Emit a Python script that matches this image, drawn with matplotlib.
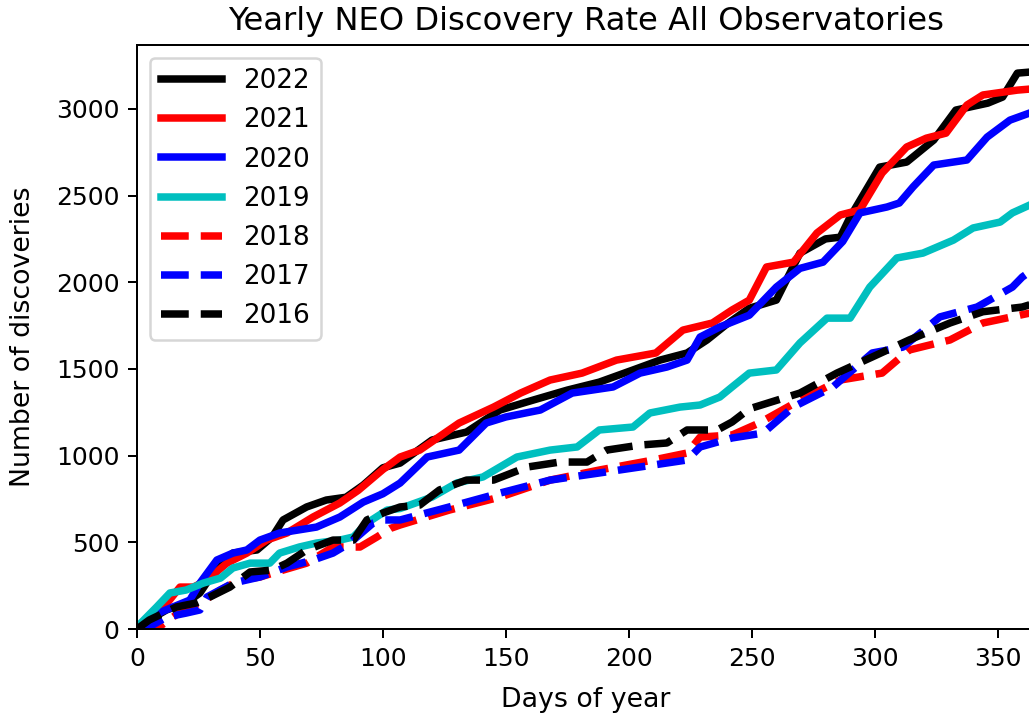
import matplotlib
matplotlib.use("Agg")
import matplotlib.pyplot as plt

# cumulative NEO discoveries per day of year
days_2022 = [0, 5, 12, 20, 25.6, 31, 39, 48.8, 55, 59.4, 69, 77, 85, 92, 100, 107, 120, 134, 147.6, 161, 175,
             188, 201.7, 212.7, 223.7, 231.8, 240, 249, 260, 269.6, 280, 286, 290, 302, 313, 324, 333, 346,
             352, 358, 363]
count_2022 = [0, 52, 110, 150, 208, 323, 438, 456, 531, 629, 704, 744, 760, 830, 930, 957, 1090, 1136, 1263,
              1320, 1378, 1424, 1494, 1551, 1592, 1667, 1760, 1850, 1897, 2168, 2250, 2260, 2376, 2664, 2693,
              2820, 2993, 3033, 3068, 3206, 3212]

days_2021 = [0, 9, 17.5, 23, 28.5, 36.6, 44.7, 52.8, 61, 71.6, 82.5, 90, 100, 107, 115, 131, 145, 156, 168,
             181, 195, 211, 222, 234, 242, 249, 256, 267, 276.5, 286, 294, 303, 313, 321, 329, 337.5, 344,
             358, 363]
count_2021 = [0, 92, 242, 242, 283, 380, 438, 513, 554, 646, 727, 800, 920, 992, 1032, 1188, 1280, 1361,
              1436, 1476, 1551, 1592, 1724, 1765, 1840, 1897, 2088, 2116, 2284, 2388, 2417, 2630, 2780, 2831,
              2860, 3022, 3080, 3108, 3114]

days_2020 = [0, 5, 14.6, 21.5, 25.6, 32.5, 39, 44.7, 50, 58, 73, 82.5, 92, 100, 107, 118, 131, 142, 150,
             164, 177, 193.6, 204.6, 215.5, 223.7, 229, 237, 249, 260, 269.6, 279, 287, 294, 305, 310, 315.6,
             324, 337.5, 345.7, 355, 363]
count_2020 = [0, 69, 127, 167, 265, 398, 438, 456, 513, 554, 588, 646, 732, 780, 842, 992, 1032, 1188, 1223,
              1263, 1361, 1396, 1476, 1511, 1551, 1684, 1742, 1810, 1972, 2080, 2116, 2235, 2400, 2434, 2457,
              2550, 2676, 2705, 2837, 2935, 2976]

days_2019 = [0, 8, 13.4, 20, 27, 34, 39, 46, 54, 58, 66, 73, 82.5, 88, 93.5, 101.7, 107, 120, 130, 140.7,
             154.5, 168, 179, 188, 201.7, 208.6, 220.8, 229, 237, 242, 249, 260, 269.6, 280.6, 290, 298, 309,
             319.6, 332, 340, 351, 356, 363]
count_2019 = [12, 127, 208, 225, 265, 294, 352, 380, 380, 438, 473, 496, 513, 531, 611, 686, 695, 761, 842,
              877, 992, 1032, 1050, 1148, 1165, 1246, 1280, 1292, 1338, 1396, 1476, 1494, 1650, 1793, 1793,
              1972, 2140, 2168, 2243, 2313, 2347, 2400, 2445]

days_2018 = [0, 9, 18.7, 25.6, 34, 42, 50, 59.4, 69, 79.7, 90.7, 97.6, 103, 107, 127, 147.6, 168, 188, 210,
             223.7, 229, 242, 253, 269.6, 286, 303, 314, 330.6, 344, 363]
count_2018 = [0, 12, 110, 150, 225, 283, 300, 340, 380, 473, 473, 531, 580, 600, 686, 761, 859, 917, 975,
              1015, 1107, 1119, 1188, 1320, 1436, 1476, 1609, 1667, 1765, 1822]

days_2017 = [0, 5, 12, 20, 25.6, 28.5, 39, 50, 61, 71.6, 79.7, 86.6, 96, 100, 107, 127, 147.6, 168, 188,
             210, 223.7, 229, 242, 254.6, 266.8, 283, 299, 311.5, 326.5, 341.6, 356, 360, 363]
count_2017 = [0, 12, 69, 92, 110, 185, 265, 300, 358, 398, 438, 496, 611, 629, 629, 704, 784, 859, 900, 946,
              975, 1050, 1102, 1130, 1280, 1396, 1592, 1626, 1800, 1857, 1972, 2030, 2060]

days_2016 = [0, 5, 16, 24, 29.7, 37.8, 46, 55, 61, 69, 79.7, 88, 93.5, 100, 107, 115, 123, 134, 145, 158.6,
             172, 183, 191, 204.6, 215.5, 223.7, 236, 242, 249, 269.6, 284.6, 299, 314, 330.6, 344, 360, 363]
count_2016 = [0, 52, 127, 150, 185, 242, 329, 340, 380, 456, 513, 513, 629, 669, 704, 715, 802, 859, 859,
              934, 963, 963, 1032, 1061, 1073, 1148, 1148, 1194, 1270, 1361, 1476, 1569, 1667, 1765, 1830,
              1857, 1870]

years = ["2022", "2021", "2020", "2019", "2018", "2017", "2016"]
all_days = [days_2022, days_2021, days_2020, days_2019, days_2018, days_2017, days_2016]
all_counts = [count_2022, count_2021, count_2020, count_2019, count_2018, count_2017, count_2016]
colors = ["black", "red", "blue", "#00BFBF", "red", "blue", "black"]
linestyles = ["-", "-", "-", "-", "--", "--", "--"]

fig = plt.figure(figsize=(1029 / 180, 714 / 180), dpi=180)
ax = fig.add_axes([0.1331, 0.119, 0.8723, 0.8184])

for d, c, col, ls, yr in zip(all_days, all_counts, colors, linestyles, years):
    ax.plot(d, c, color=col, linestyle=ls, linewidth=3, label=yr)

ax.set_xlim(0, 365)
ax.set_ylim(0, 3370)
ax.set_title("Yearly NEO Discovery Rate All Observatories", fontsize=12.9)
ax.set_xlabel("Days of year", fontsize=10.7, labelpad=6.5)
ax.set_ylabel("Number of discoveries", fontsize=10.7, labelpad=8)
ax.legend(loc="upper left", handlelength=2.35, fontsize=10.5)

fig.savefig("out.png", dpi=180)
